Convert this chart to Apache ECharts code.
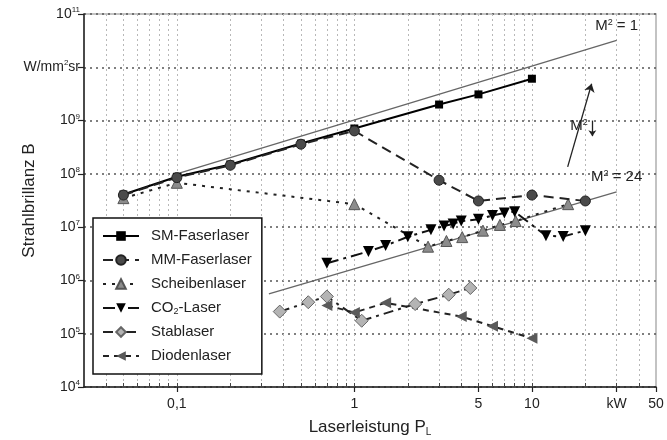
<!DOCTYPE html>
<html>
<head>
<meta charset="utf-8">
<script src="https://cdn.jsdelivr.net/npm/echarts@6/dist/echarts.min.js"></script>
<style>
  html, body { margin: 0; padding: 0; background: #fff; }
  #chart { width: 667px; height: 440px; }
</style>
</head>
<body>
<div id="chart"></div>
<script>
// Laserleistung P_L [kW] , Strahlbrillanz B [W/mm²sr]
const smFaser = [[0.05, 4.1e7], [0.1, 8.8e7], [0.2, 1.5e8], [0.5, 3.7e8], [1, 7.1e8], [3, 2.0e9], [5, 3.1e9], [10, 6.1e9]];
const mmFaser = [[0.05, 4.0e7], [0.1, 8.5e7], [0.2, 1.45e8], [0.5, 3.6e8], [1, 6.4e8], [3, 7.6e7], [5, 3.1e7], [10, 4.0e7], [20, 3.1e7]];
const scheiben = [[0.05, 3.5e7], [0.1, 6.8e7], [1, 2.7e7], [2.6, 4.3e6], [3.3, 5.5e6], [4.05, 6.5e6], [5.3, 8.6e6], [6.6, 1.1e7], [8.1, 1.3e7], [16, 2.7e7]];
const co2 = [[0.7, 2.1e6], [1.2, 3.5e6], [1.5, 4.5e6], [2, 6.6e6], [2.7, 8.9e6], [3.2, 1.05e7], [3.6, 1.15e7], [4, 1.3e7], [5, 1.4e7], [6, 1.65e7], [7, 1.85e7], [8, 1.95e7], [12, 6.9e6], [15, 6.7e6], [20, 8.6e6]];
const stab = [[0.38, 2.6e5], [0.55, 3.9e5], [0.7, 5.0e5], [1.1, 1.75e5], [2.2, 3.6e5], [3.4, 5.4e5], [4.5, 7.2e5]];
const dioden = [[0.7, 3.4e5], [1, 2.5e5], [1.5, 3.8e5], [4, 2.1e5], [6, 1.38e5], [10, 8.2e4]];
const m2eins = [[0.1, 1.0e8], [30, 3.2e10]];
const m2vier = [[0.33, 5.6e5], [30, 4.6e7]];

// annotation (arrow "M² ↓")
const arrowUp = [[15.9, 1.35e8], [21.7, 4.9e9]];
const arrowDown = [[21.9, 1.0e9], [21.9, 5.1e8]];
const m2TextPos = [18.4, 7.8e8];

const xGridValues = [0.04, 0.05, 0.06, 0.07, 0.08, 0.09, 0.1, 0.2, 0.3, 0.4, 0.5, 0.6, 0.7, 0.8, 0.9,
  1, 2, 3, 4, 5, 6, 7, 8, 9, 10, 20, 30, 40];
const xMajorTicks = [0.1, 1, 5, 10, 30, 50];
const xTickLabels = ['0,1', '1', '5', '10', 'kW', '50'];
const yTicks = [1e4, 1e5, 1e6, 1e7, 1e8, 1e9, 1e10, 1e11];

const font = '"Liberation Sans", Arial, sans-serif';

const chart = echarts.init(document.getElementById('chart'));

const m2Label = (txt) => ({
  show: true,
  position: 'top',
  distance: 6,
  fontFamily: font,
  fontSize: 15,
  color: '#222',
  lineHeight: 16,
  formatter: (p) => (p.dataIndex === 1 ? 'M{sup|2} = ' + txt : ''),
  rich: { sup: { fontSize: 9, verticalAlign: 'top', lineHeight: 16 } }
});

chart.setOption({
  animation: false,
  backgroundColor: '#fff',
  textStyle: { fontFamily: font },
  grid: {
    left: 84, right: 11, top: 14, bottom: 53,
    outerBoundsMode: 'none',
    show: true, borderColor: '#b0b0b0', borderWidth: 1.5, backgroundColor: 'transparent'
  },
  legend: {
    data: ['SM-Faserlaser', 'MM-Faserlaser', 'Scheibenlaser', 'CO2-Laser', 'Stablaser', 'Diodenlaser'],
    orient: 'vertical',
    left: 93,
    top: 218,
    itemWidth: 36,
    itemHeight: 12,
    itemGap: 8,
    padding: [10, 10, 10, 9],
    borderColor: '#111',
    borderWidth: 1.5,
    borderRadius: 0,
    backgroundColor: '#fff',
    formatter: (n) => (n === 'CO2-Laser' ? 'CO{sub|2}-Laser' : n),
    textStyle: {
      fontSize: 15, color: '#222', lineHeight: 16, padding: [0, 0, 0, 7],
      rich: { sub: { fontSize: 9, verticalAlign: 'bottom', lineHeight: 16 } }
    }
  },
  xAxis: [
    {
      type: 'log', min: 0.03, max: 50, position: 'bottom',
      name: 'Laserleistung P{sub|L}',
      nameLocation: 'middle', nameGap: 30, nameMoveOverlap: false,
      nameTextStyle: {
        fontSize: 17, color: '#222', lineHeight: 20,
        rich: { sub: { fontSize: 10, verticalAlign: 'bottom', lineHeight: 20 } }
      },
      axisLine: { lineStyle: { color: '#222', width: 1.5 } },
      axisTick: { customValues: xGridValues, inside: true, length: 4, lineStyle: { color: '#444' } },
      axisLabel: { show: false },
      splitLine: { show: true, lineStyle: { color: '#b8b8b8', type: [2, 3], width: 1 } }
    },
    {
      type: 'log', min: 0.03, max: 50, position: 'bottom', offset: 0,
      axisLine: { show: false },
      axisTick: { customValues: xMajorTicks, length: 5, lineStyle: { color: '#222', width: 1.2 } },
      axisLabel: {
        customValues: xMajorTicks, margin: 10, fontSize: 14, color: '#222',
        formatter: (v) => {
          let best = 0;
          xMajorTicks.forEach((t, i) => { if (Math.abs(Math.log10(t) - Math.log10(v)) < Math.abs(Math.log10(xMajorTicks[best]) - Math.log10(v))) best = i; });
          return xTickLabels[best];
        }
      },
      splitLine: { show: false }
    }
  ],
  yAxis: {
    type: 'log', min: 1e4, max: 1e11,
    name: 'Strahlbrillanz B',
    nameLocation: 'middle', nameGap: 46, nameMoveOverlap: false,
    nameTextStyle: { fontSize: 17, color: '#222' },
    axisLine: { lineStyle: { color: '#222', width: 1.5 } },
    axisTick: { customValues: yTicks, length: 6, lineStyle: { color: '#222', width: 1.2 } },
    axisLabel: {
      customValues: yTicks, margin: 4, fontSize: 14, color: '#222', lineHeight: 16,
      formatter: (v) => {
        const e = Math.round(Math.log10(v));
        if (e === 10) return 'W/mm{sup|2}sr';
        return '10{sup|' + e + '}';
      },
      rich: { sup: { fontSize: 8, verticalAlign: 'top', lineHeight: 16 } }
    },
    splitLine: { show: true, lineStyle: { color: '#555', type: [2, 4], width: 1.5 } }
  },
  series: [
    {
      name: 'M1', type: 'line', data: m2eins, z: 2,
      symbol: 'circle', symbolSize: 1, itemStyle: { color: 'transparent' },
      lineStyle: { color: '#666', width: 1.3 },
      label: m2Label('1'),
      markLine: {
        silent: true, symbol: ['none', 'arrow'], symbolSize: 8,
        label: { show: false },
        lineStyle: { color: '#222', width: 1.3, type: 'solid' },
        data: [
          [{ coord: arrowUp[0] }, { coord: arrowUp[1] }],
          [{ coord: arrowDown[0] }, { coord: arrowDown[1], symbolSize: 6 }]
        ]
      },
      markPoint: {
        silent: true,
        symbol: 'circle', symbolSize: 1, itemStyle: { color: 'transparent' },
        label: {
          show: true, position: 'inside', fontSize: 15, color: '#222', lineHeight: 16,
          formatter: 'M{sup|2}',
          rich: { sup: { fontSize: 9, verticalAlign: 'top', lineHeight: 16 } }
        },
        data: [{ coord: m2TextPos }]
      }
    },
    {
      name: 'M24', type: 'line', data: m2vier, z: 2,
      symbol: 'circle', symbolSize: 1, itemStyle: { color: 'transparent' },
      lineStyle: { color: '#666', width: 1.3 },
      label: m2Label('24')
    },
    {
      name: 'Scheibenlaser', type: 'line', data: scheiben, z: 3,
      symbol: 'triangle', symbolSize: 11,
      itemStyle: { color: '#8c8c8c', borderColor: '#555', borderWidth: 1 },
      lineStyle: { color: '#222', width: 2, type: [3, 6] }
    },
    {
      name: 'Stablaser', type: 'line', data: stab, z: 3,
      symbol: 'diamond', symbolSize: 13,
      itemStyle: { color: '#b4b4b4', borderColor: '#666', borderWidth: 1 },
      lineStyle: { color: '#222', width: 2, type: [10, 5, 3, 5] }
    },
    {
      name: 'Diodenlaser', type: 'line', data: dioden, z: 3,
      symbol: 'triangle', symbolRotate: 90, symbolSize: 11,
      itemStyle: { color: '#5a5a5a' },
      lineStyle: { color: '#222', width: 2, type: [6, 5] }
    },
    {
      name: 'CO2-Laser', type: 'line', data: co2, z: 4,
      symbol: 'triangle', symbolRotate: 180, symbolSize: 11,
      itemStyle: { color: '#000' },
      lineStyle: { color: '#111', width: 2, type: [12, 5, 3, 5] }
    },
    {
      name: 'SM-Faserlaser', type: 'line', data: smFaser, z: 5,
      symbol: 'rect', symbolSize: 8,
      itemStyle: { color: '#000' },
      lineStyle: { color: '#000', width: 2 }
    },
    {
      name: 'MM-Faserlaser', type: 'line', data: mmFaser, z: 6,
      symbol: 'circle', symbolSize: 10,
      itemStyle: { color: '#4a4a4a', borderColor: '#222', borderWidth: 1 },
      lineStyle: { color: '#222', width: 2, type: [10, 6] }
    }
  ]
});
</script>
</body>
</html>
